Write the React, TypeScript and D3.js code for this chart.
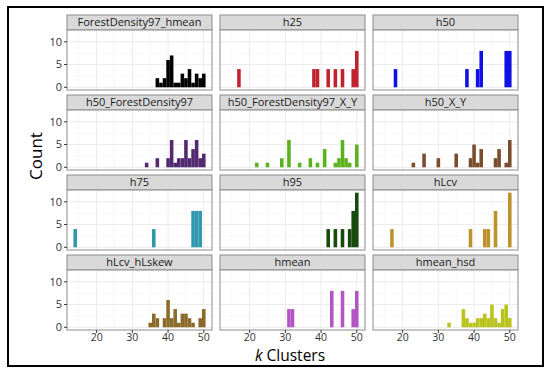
import * as d3 from "d3";

// facet titles and fill colours, in row-major order
const facetNames = [
  "ForestDensity97_hmean",
  "h25",
  "h50",
  "h50_ForestDensity97",
  "h50_ForestDensity97_X_Y",
  "h50_X_Y",
  "h75",
  "h95",
  "hLcv",
  "hLcv_hLskew",
  "hmean",
  "hmean_hsd",
];

const facetColors = [
  "#000000",
  "#c0232f",
  "#1010e6",
  "#522a70",
  "#5cb21e",
  "#7b4b2e",
  "#2f98ae",
  "#174a0c",
  "#bb922c",
  "#8b6a2a",
  "#b455c4",
  "#b9c31c",
];

// [k, count] per facet
const fd97Hmean = [[37, 2], [38, 1], [39, 2], [40, 6], [41, 7], [42, 1], [43, 1], [44, 3], [45, 2], [46, 4], [47, 1], [48, 3], [49, 2], [50, 3]];
const h25 = [[17, 4], [38, 4], [39, 4], [42, 4], [44, 4], [46, 4], [49, 4], [50, 8]];
const h50 = [[18, 4], [38, 4], [41, 4], [42, 8], [49, 8], [50, 8]];
const h50Fd97 = [[34, 1], [37, 2], [40, 2], [41, 6], [42, 1], [43, 2], [44, 2], [45, 6], [46, 2], [47, 4], [48, 6], [49, 2], [50, 3]];
const h50Fd97XY = [[22, 1], [25, 1], [29, 2], [31, 6], [34, 1], [37, 2], [39, 1], [41, 4], [44, 1], [45, 2], [46, 6], [47, 2], [48, 1], [50, 5]];
const h50XY = [[23, 1], [26, 3], [30, 2], [35, 3], [39, 2], [40, 5], [41, 1], [42, 4], [46, 2], [47, 4], [49, 1], [50, 6]];
const h75 = [[14, 4], [36, 4], [47, 8], [48, 8], [49, 8]];
const h95 = [[42, 4], [44, 4], [46, 4], [48, 4], [49, 8], [50, 12]];
const hLcv = [[17, 4], [39, 4], [43, 4], [44, 4], [46, 8], [50, 12]];
const hLcvHLskew = [[35, 1], [36, 3], [37, 2], [39, 2], [40, 6], [41, 2], [42, 4], [43, 1], [44, 3], [45, 3], [46, 2], [47, 1], [49, 2], [50, 4]];
const hmean = [[31, 4], [32, 4], [43, 8], [46, 8], [49, 4], [50, 8]];
const hmeanHsd = [[33, 1], [37, 4], [38, 2], [39, 1], [40, 1], [41, 2], [42, 2], [43, 3], [44, 2], [45, 5], [46, 2], [47, 1], [48, 4], [49, 5], [50, 2]];

const facetBars = [fd97Hmean, h25, h50, h50Fd97, h50Fd97XY, h50XY, h75, h95, hLcv, hLcvHLskew, hmean, hmeanHsd];

const xTicks = [20, 30, 40, 50];
const xMinor = [15, 25, 35, 45];
const yTicks = [0, 5, 10];
const yMinor = [2.5, 7.5, 12.5];

const W = 550;
const H = 375;
const colX = [67, 220, 373];
const rowY = [15, 95, 175, 255];
const panelW = 145;
const stripH = 15;
const panelH = 60;
const font = "'Open Sans', 'Liberation Sans', sans-serif";

const x = d3.scaleLinear().domain([11.7, 52.3]).range([0, panelW]);
const y = d3.scaleLinear().domain([-0.6, 12.6]).range([panelH, 0]);

const Facet = ({ i }: { i: number }) => {
  const col = i % 3;
  const row = Math.floor(i / 3);
  const left = colX[col];
  const top = rowY[row];
  const bars = facetBars[i];
  return (
    <g transform={`translate(${left},${top})`}>
      <rect x={0} y={0} width={panelW} height={stripH} fill="#d9d9d9" stroke="#8c8c8c" strokeWidth={1} />
      <text x={panelW / 2} y={stripH / 2} dy="0.35em" textAnchor="middle" fontSize={11} fill="#1a1a1a" fontFamily={font}>
        {facetNames[i]}
      </text>
      <g transform={`translate(0,${stripH})`}>
        <rect width={panelW} height={panelH} fill="#fff" />
        {xMinor.map((t) => (
          <line key={"xm" + t} x1={x(t)} x2={x(t)} y1={0} y2={panelH} stroke="#f4f4f4" strokeWidth={0.6} />
        ))}
        {yMinor.map((t) => (
          <line key={"ym" + t} x1={0} x2={panelW} y1={y(t)} y2={y(t)} stroke="#f4f4f4" strokeWidth={0.6} />
        ))}
        {xTicks.map((t) => (
          <line key={"x" + t} x1={x(t)} x2={x(t)} y1={0} y2={panelH} stroke="#ebebeb" strokeWidth={1} />
        ))}
        {yTicks.map((t) => (
          <line key={"y" + t} x1={0} x2={panelW} y1={y(t)} y2={y(t)} stroke="#ebebeb" strokeWidth={1} />
        ))}
        {bars.map(([k, c]) => (
          <rect
            key={k}
            x={x(k - 0.5)}
            width={x(k + 0.5) - x(k - 0.5)}
            y={y(c)}
            height={y(0) - y(c)}
            fill={facetColors[i]}
          />
        ))}
        <rect width={panelW} height={panelH} fill="none" stroke="#8c8c8c" strokeWidth={1} />
        {col === 0 &&
          yTicks.map((t) => (
            <g key={"yt" + t} transform={`translate(0,${y(t)})`}>
              <line x1={-3} x2={0} stroke="#333" />
              <text x={-5} dy="0.35em" textAnchor="end" fontSize={11} fill="#333" fontFamily={font}>
                {t}
              </text>
            </g>
          ))}
        {row === 3 &&
          xTicks.map((t) => (
            <g key={"xt" + t} transform={`translate(${x(t)},${panelH})`}>
              <line y1={0} y2={3} stroke="#333" />
              <text y={11} textAnchor="middle" fontSize={10.5} fill="#333" fontFamily={font}>
                {t}
              </text>
            </g>
          ))}
      </g>
    </g>
  );
};

export default function App() {
  return (
    <svg width={W} height={H} style={{ position: "absolute", left: 0, top: 0 }}>
      <rect width={W} height={H} fill="#fff" />
      <rect x={8} y={7} width={535} height={359} fill="none" stroke="#000" strokeWidth={2} />
      {facetNames.map((_, i) => (
        <Facet key={i} i={i} />
      ))}
      <text
        transform="translate(42,156) rotate(-90)"
        textAnchor="middle"
        fontSize={17}
        fill="#000"
        fontFamily={font}
      >
        Count
      </text>
      <text x={290} y={361} textAnchor="middle" fontSize={15.5} fill="#000" fontFamily={font}>
        <tspan fontStyle="italic">k</tspan> Clusters
      </text>
    </svg>
  );
}
